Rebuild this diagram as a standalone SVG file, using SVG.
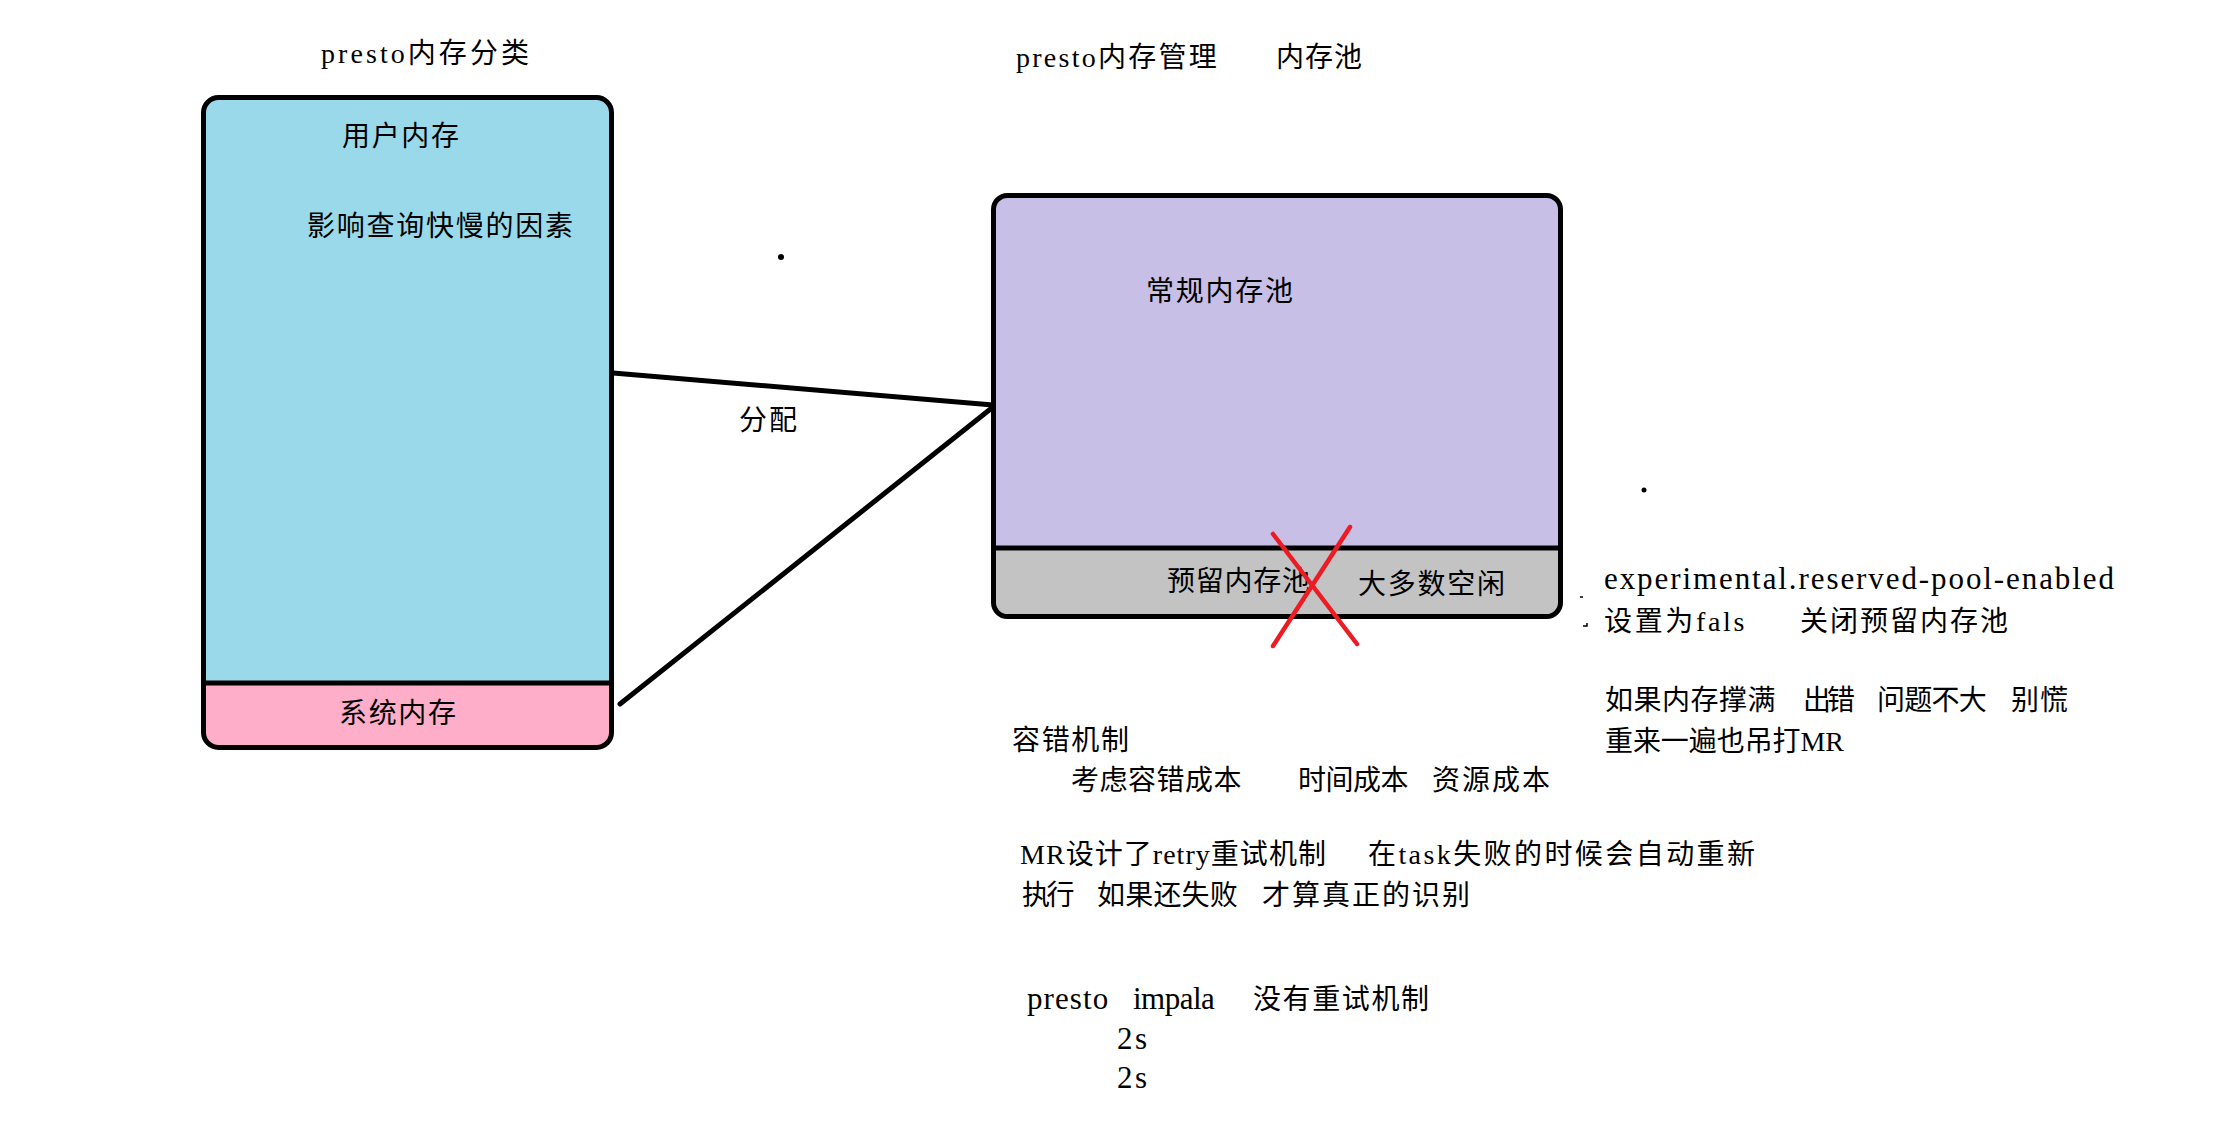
<svg xmlns="http://www.w3.org/2000/svg" width="2226" height="1130" viewBox="0 0 2226 1130">
<style>
  text { font-family: "Liberation Serif", "Noto Sans CJK SC", serif; font-size: 28px; fill: #000; }
  .lat { font-size: 31px; }
  .box { fill: none; stroke: #000; stroke-width: 5; }
  .div { stroke: #000; stroke-width: 5; }
  .conn { stroke: #000; stroke-width: 5; stroke-linecap: round; fill: none; }
  .cross { stroke: #ED1C24; stroke-width: 4.5; stroke-linecap: round; }
</style>
<rect width="2226" height="1130" fill="#fff"/>

<g id="title-left">
  <text x="321" y="63"><tspan x="321" textLength="208" lengthAdjust="spacing">presto内存分类</tspan></text>
</g>
<g id="title-right">
  <text x="1016" y="67"><tspan x="1016" textLength="210" lengthAdjust="spacing">presto内存管理    </tspan><tspan x="1276" textLength="86" lengthAdjust="spacing">内存池</tspan></text>
</g>

<g id="memory-types">
  <rect x="203.5" y="97.5" width="408" height="650" rx="15" fill="#99D9EA"/>
  <path d="M203.5,683 H611.5 V732.5 A15,15 0 0 1 596.5,747.5 H218.5 A15,15 0 0 1 203.5,732.5 Z" fill="#FFAEC9"/>
  <line class="div" x1="203.5" y1="683" x2="611.5" y2="683"/>
  <rect class="box" x="203.5" y="97.5" width="408" height="650" rx="15"/>
  <text x="342" y="146"><tspan x="342" textLength="117" lengthAdjust="spacing">用户内存</tspan></text>
  <text x="307" y="236"><tspan x="307" textLength="266" lengthAdjust="spacing">影响查询快慢的因素</tspan></text>
  <text x="339" y="723"><tspan x="339" textLength="117" lengthAdjust="spacing">系统内存</tspan></text>
</g>

<g id="memory-pools">
  <rect x="993.5" y="195.5" width="567" height="421" rx="14" fill="#C8BFE7"/>
  <path d="M993.5,548 H1560.5 V602.5 A14,14 0 0 1 1546.5,616.5 H1007.5 A14,14 0 0 1 993.5,602.5 Z" fill="#C3C3C3"/>
  <line class="div" x1="993.5" y1="548" x2="1560.5" y2="548"/>
  <rect class="box" x="993.5" y="195.5" width="567" height="421" rx="14"/>
  <text x="1146" y="301"><tspan x="1146" textLength="147" lengthAdjust="spacing">常规内存池</tspan></text>
  <text x="1167" y="591"><tspan x="1167" textLength="143" lengthAdjust="spacing">预留内存池</tspan></text>
  <text x="1358" y="594"><tspan x="1358" textLength="147" lengthAdjust="spacing">大多数空闲</tspan></text>
</g>

<g id="reserved-pool-cross">
  <line class="cross" x1="1273" y1="534" x2="1357" y2="644"/>
  <line class="cross" x1="1350" y1="527" x2="1273" y2="646"/>
</g>

<g id="connectors">
  <line class="conn" x1="613" y1="373" x2="993" y2="405"/>
  <line class="conn" x1="620" y1="704" x2="993" y2="407"/>
  <text x="739" y="430"><tspan x="739" textLength="58" lengthAdjust="spacing">分配</tspan></text>
</g>

<g id="marks">
  <circle cx="781" cy="257" r="3" fill="#000"/>
  <circle cx="1644" cy="490" r="2.5" fill="#000"/>
  <path d="M1580,597 h3" stroke="#000" stroke-width="1.5" fill="none"/>
  <path d="M1583,626 h4 v-3" stroke="#000" stroke-width="1.5" fill="none"/>
</g>

<g id="notes-reserved">
  <text class="lat" x="1604" y="589"><tspan x="1604" textLength="510" lengthAdjust="spacing">experimental.reserved-pool-enabled</tspan></text>
  <text x="1604" y="631"><tspan x="1604" textLength="150" lengthAdjust="spacing">设置为fals    </tspan><tspan x="1800" textLength="208" lengthAdjust="spacing">关闭预留内存池</tspan></text>
  <text x="1605" y="710"><tspan x="1605" textLength="178" lengthAdjust="spacing">如果内存撑满 </tspan><tspan x="1803" textLength="55" lengthAdjust="spacing">出错 </tspan><tspan x="1877" textLength="116" lengthAdjust="spacing">问题不大 </tspan><tspan x="2011" textLength="57" lengthAdjust="spacing">别慌</tspan></text>
  <text x="1605" y="751"><tspan x="1605" textLength="239" lengthAdjust="spacing">重来一遍也吊打MR</tspan></text>
</g>

<g id="notes-fault-tolerance">
  <text x="1012" y="750"><tspan x="1012" textLength="117" lengthAdjust="spacing">容错机制</tspan></text>
  <text x="1071" y="790"><tspan x="1071" textLength="178" lengthAdjust="spacing">考虑容错成本    </tspan><tspan x="1298" textLength="117" lengthAdjust="spacing">时间成本 </tspan><tspan x="1432" textLength="118" lengthAdjust="spacing">资源成本</tspan></text>
  <text x="1020" y="864"><tspan x="1020" textLength="314" lengthAdjust="spacing">MR设计了retry重试机制   </tspan><tspan x="1368" textLength="387" lengthAdjust="spacing">在task失败的时候会自动重新</tspan></text>
  <text x="1022" y="905"><tspan x="1022" textLength="56" lengthAdjust="spacing">执行 </tspan><tspan x="1097" textLength="148" lengthAdjust="spacing">如果还失败 </tspan><tspan x="1262" textLength="208" lengthAdjust="spacing">才算真正的识别</tspan></text>
  <text x="1027" y="1009"><tspan class="lat" x="1027" textLength="90" lengthAdjust="spacing">presto </tspan><tspan class="lat" x="1133" textLength="89" lengthAdjust="spacing">impala  </tspan><tspan x="1253" textLength="176" lengthAdjust="spacing">没有重试机制</tspan></text>
  <text class="lat" x="1117" y="1049"><tspan x="1117" textLength="30" lengthAdjust="spacing">2s</tspan></text>
  <text class="lat" x="1117" y="1088"><tspan x="1117" textLength="30" lengthAdjust="spacing">2s</tspan></text>
</g>
</svg>
